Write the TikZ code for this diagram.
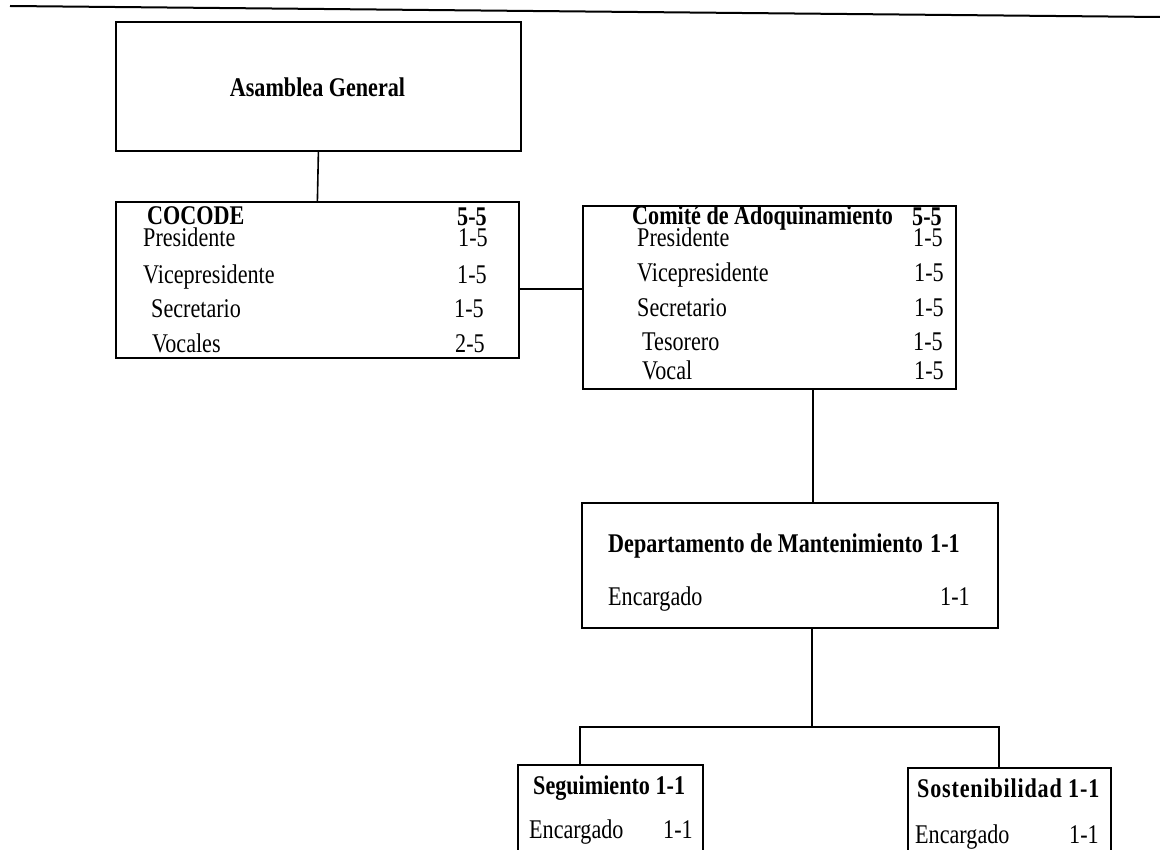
\documentclass[tikz,border=0pt]{standalone}
\usepackage{fontspec}
\setmainfont{Liberation Serif}[FakeStretch=0.82]
\begin{document}
\begin{tikzpicture}[x=1pt,y=-1pt,
  box/.style={draw, line width=1.8pt, rectangle, inner sep=0pt, anchor=north west},
  lbl/.style={anchor=base west, inner sep=0pt, font=\fontsize{27}{30}\selectfont},
  bl/.style={lbl, font=\fontsize{27}{30}\selectfont\bfseries},
  conn/.style={line width=1.6pt}]
\clip (0,0) rectangle (1160,850);
\fill[white] (0,0) rectangle (1160,850);
% top rule
\coordinate (tl) at (10,6);
\coordinate (tr) at (1160,17);
\draw[conn, line width=2pt] (tl) -- (tr);

% Asamblea General
\node[box, minimum width=405pt, minimum height=129pt] (asam) at (115,21) {};
\node[bl, anchor=base] (asamt) at (317.5,97) {Asamblea General};

% COCODE
\node[box, minimum width=403pt, minimum height=156pt] (cocode) at (115,201) {};
\node[bl] (c0) at (147,225) {COCODE};
\node[bl] (c0n) at (457,226) {5-5};
\node[lbl] (c1) at (143,247) {Presidente};
\node[lbl] (c1n) at (458,247) {1-5};
\node[lbl] (c2) at (143,284) {Vicepresidente};
\node[lbl] (c2n) at (457,284) {1-5};
\node[lbl] (c3) at (151,318) {Secretario};
\node[lbl] (c3n) at (454,318) {1-5};
\node[lbl] (c4) at (152,353) {Vocales};
\node[lbl] (c4n) at (455,353) {2-5};

% Comite
\node[box, minimum width=373pt, minimum height=183pt] (comite) at (582,205) {};
\node[bl] (k0) at (632,225) {Comité de Adoquinamiento};
\node[bl] (k0n) at (912,226) {5-5};
\node[lbl] (k1) at (637,247) {Presidente};
\node[lbl] (k1n) at (913,247) {1-5};
\node[lbl] (k2) at (637,282) {Vicepresidente};
\node[lbl] (k2n) at (914,282) {1-5};
\node[lbl] (k3) at (637,317) {Secretario};
\node[lbl] (k3n) at (914,317) {1-5};
\node[lbl] (k4) at (642,351) {Tesorero};
\node[lbl] (k4n) at (913,351) {1-5};
\node[lbl] (k5) at (642,380) {Vocal};
\node[lbl] (k5n) at (914,380) {1-5};

% Departamento
\node[box, minimum width=416pt, minimum height=125pt] (dept) at (581,502) {};
\node[bl] (d0) at (608,552) {Departamento de Mantenimiento};
\node[bl] (d0n) at (930,552) {1-1};
\node[lbl] (d1) at (608,605) {Encargado};
\node[lbl] (d1n) at (940,605) {1-1};

% Seguimiento
\node[box, minimum width=185pt, minimum height=140pt] (segui) at (517,764) {};
\node[bl] (s0) at (533,794) {Seguimiento 1-1};
\node[lbl] (s1) at (529,838) {Encargado};
\node[lbl] (s1n) at (663,838) {1-1};

% Sostenibilidad
\node[box, minimum width=203pt, minimum height=140pt] (sost) at (907,767) {};
\node[bl, font=\fontsize{27}{30}\selectfont\bfseries\addfontfeatures{LetterSpace=3}] (t0) at (917,797) {Sostenibilidad 1-1};
\node[lbl] (t1) at (915,843) {Encargado};
\node[lbl] (t1n) at (1069,843) {1-1};

% connectors
\draw[conn] (asam.south) -- (cocode.north);
\draw[conn] ([yshift=-9pt]cocode.east) -- ([yshift=-9pt]cocode.east -| comite.west);
\coordinate (cx) at (813,0);
\draw[conn] (comite.south -| cx) -- (dept.north -| cx);
\coordinate (j) at (812,727);
\coordinate (sl) at (580,727);
\coordinate (sr) at (999,727);
\draw[conn] (dept.south -| j) -- (j);
\draw[conn] (segui.north -| sl) -- (sl) -- (sr) -- (sost.north -| sr);
\end{tikzpicture}
\end{document}
